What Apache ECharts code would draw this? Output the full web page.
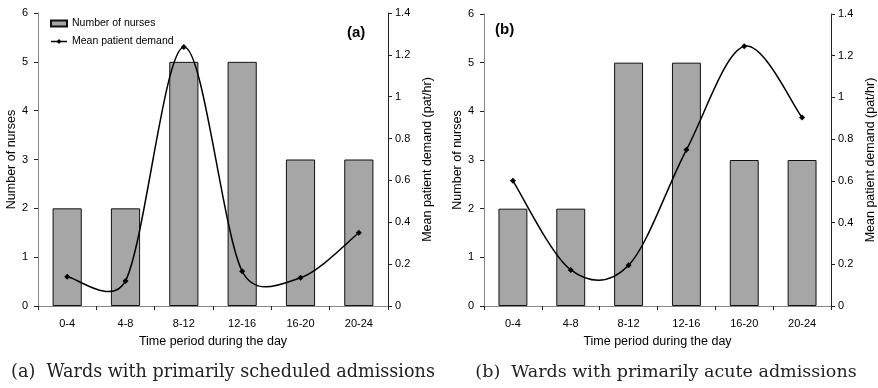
<!DOCTYPE html>
<html>
<head>
<meta charset="utf-8">
<script src="https://cdn.jsdelivr.net/npm/echarts@6/dist/echarts.min.js"></script>
<style>html,body{margin:0;padding:0;background:#fff;}#c{width:878px;height:388px;}</style>
</head>
<body>
<div id="c"></div>
<script>
const categories = ['0-4', '4-8', '8-12', '12-16', '16-20', '20-24'];
const nursesA = [2, 2, 5, 5, 3, 3];
const demandA = [0.14, 0.12, 1.237, 0.166, 0.135, 0.35];
const nursesB = [2, 2, 5, 5, 3, 3];
const demandB = [0.6, 0.173, 0.195, 0.749, 1.245, 0.904];
const leftTicks = { min: 0, max: 6, interval: 1 };
const rightTicks = { min: 0, max: 1.4, interval: 0.2 };
const captionA = '(a)  Wards with primarily scheduled admissions';
const captionB = '(b)  Wards with primarily acute admissions';

const FONT = 'Liberation Sans, Arial, sans-serif';
const axisLineStyle = { color: '#868686', width: 1 };
const tickStyle = { color: '#222', width: 1 };
const lbl = { color: '#000', fontFamily: FONT, fontSize: 11 };
const nameStyle = { color: '#000', fontFamily: FONT, fontSize: 12.5 };

function xAxis(gi) {
  return {
    type: 'category', gridIndex: gi, data: categories,
    axisLine: { lineStyle: axisLineStyle },
    axisTick: { show: true, alignWithLabel: false, length: 4, lineStyle: tickStyle },
    axisLabel: Object.assign({ margin: 12 }, lbl),
    name: 'Time period during the day', nameLocation: 'middle', nameGap: 29,
    nameTextStyle: nameStyle
  };
}
function yLeft(gi) {
  return Object.assign({
    type: 'value', gridIndex: gi, position: 'left',
    axisLine: { show: true, lineStyle: axisLineStyle },
    axisTick: { show: true, length: 4, lineStyle: tickStyle },
    axisLabel: Object.assign({ margin: 10 }, lbl),
    splitLine: { show: false },
    name: 'Number of nurses', nameLocation: 'middle', nameGap: 19, nameRotate: 90,
    nameTextStyle: nameStyle
  }, leftTicks);
}
function yRight(gi) {
  return Object.assign({
    type: 'value', gridIndex: gi, position: 'right',
    axisLine: { show: true, lineStyle: { color: '#222', width: 1 } },
    axisTick: { show: true, length: 4, lineStyle: tickStyle },
    axisLabel: Object.assign({ margin: 7 }, lbl),
    splitLine: { show: false },
    name: 'Mean patient demand (pat/hr)', nameLocation: 'middle', nameGap: 33, nameRotate: 90,
    nameTextStyle: nameStyle
  }, rightTicks);
}
function barSeries(name, data, xi, yi) {
  return {
    name: name, type: 'bar', xAxisIndex: xi, yAxisIndex: yi, data: data,
    barWidth: '50%',
    itemStyle: { color: '#a6a6a6', borderColor: '#111', borderWidth: 1 },
    emphasis: { disabled: true }, animation: false
  };
}
// markers (diamonds) drawn by a line series with invisible line
function markerSeries(name, data, xi, yi) {
  return {
    name: name, type: 'line', xAxisIndex: xi, yAxisIndex: yi, data: data,
    symbol: 'diamond', symbolSize: 6, showSymbol: true,
    lineStyle: { opacity: 0 },
    itemStyle: { color: '#000' },
    emphasis: { disabled: true }, animation: false, z: 6
  };
}
// smooth curve (spreadsheet-style Bezier smoothing) through the data via axis coords
function curveSeries(arr, xi, yi) {
  return {
    type: 'custom', xAxisIndex: xi, yAxisIndex: yi,
    data: arr.map((v, i) => [i, v]),
    encode: { x: 0, y: 1 },
    silent: true, animation: false, z: 5,
    renderItem: function (params, api) {
      const i = params.dataIndex;
      const n = arr.length;
      if (i >= n - 1) return { type: 'group', children: [] };
      const P = j => { const c = Math.max(0, Math.min(n - 1, j)); return api.coord([c, arr[c]]); };
      const p0 = P(i - 1), p1 = P(i), p2 = P(i + 1), p3 = P(i + 2);
      const k = 1 / 6;
      const d12 = Math.hypot(p2[0] - p1[0], p2[1] - p1[1]);
      function off(a, b) {
        let dx = (b[0] - a[0]) * k, dy = (b[1] - a[1]) * k;
        const L = Math.hypot(dx, dy), cap = d12 * 0.5;
        if (L > cap && L > 0) { dx *= cap / L; dy *= cap / L; }
        return [dx, dy];
      }
      const o1 = off(p0, p2), o2 = off(p1, p3);
      return {
        type: 'bezierCurve',
        shape: {
          x1: p1[0], y1: p1[1], x2: p2[0], y2: p2[1],
          cpx1: p1[0] + o1[0], cpy1: p1[1] + o1[1],
          cpx2: p2[0] - o2[0], cpy2: p2[1] - o2[1]
        },
        style: { stroke: '#000', lineWidth: 1.5, fill: null }
      };
    }
  };
}

const chart = echarts.init(document.getElementById('c'), null, { renderer: 'canvas' });
chart.setOption({
  backgroundColor: '#fff',
  animation: false,
  textStyle: { fontFamily: FONT },
  grid: [
    { left: 38, top: 13, width: 350, height: 293 },
    { left: 484, top: 14, width: 352, height: 292 }
  ],
  xAxis: [xAxis(0), xAxis(1)],
  yAxis: [yLeft(0), yRight(0), yLeft(1), yRight(1)],
  legend: {
    left: 50, top: 18, orient: 'vertical', itemGap: 7, padding: 0,
    itemWidth: 16, itemHeight: 6,
    textStyle: { color: '#000', fontFamily: FONT, fontSize: 10.5 },
    data: [
      { name: 'Number of nurses', icon: 'rect' },
      { name: 'Mean patient demand', lineStyle: { opacity: 1, color: '#000', width: 1.5 } }
    ],
    selectedMode: false
  },
  series: [
    barSeries('Number of nurses', nursesA, 0, 0),
    curveSeries(demandA, 0, 1),
    markerSeries('Mean patient demand', demandA, 0, 1),
    barSeries('Number of nurses ', nursesB, 1, 2),
    curveSeries(demandB, 1, 3),
    markerSeries('Mean patient demand ', demandB, 1, 3)
  ],
  graphic: [
    { type: 'text', left: 347, top: 25, style: { text: '(a)', font: 'bold 15px ' + FONT, fill: '#000' } },
    { type: 'text', left: 495, top: 22, style: { text: '(b)', font: 'bold 15px ' + FONT, fill: '#000' } },
    { type: 'text', x: 223, y: 372, style: { text: captionA, font: '17.6px "DejaVu Serif", serif', fill: '#222', align: 'center', verticalAlign: 'middle' } },
    { type: 'text', x: 666, y: 372, style: { text: captionB, font: '17.5px "DejaVu Serif", serif', fill: '#222', align: 'center', verticalAlign: 'middle' } }
  ]
});
</script>
</body>
</html>
